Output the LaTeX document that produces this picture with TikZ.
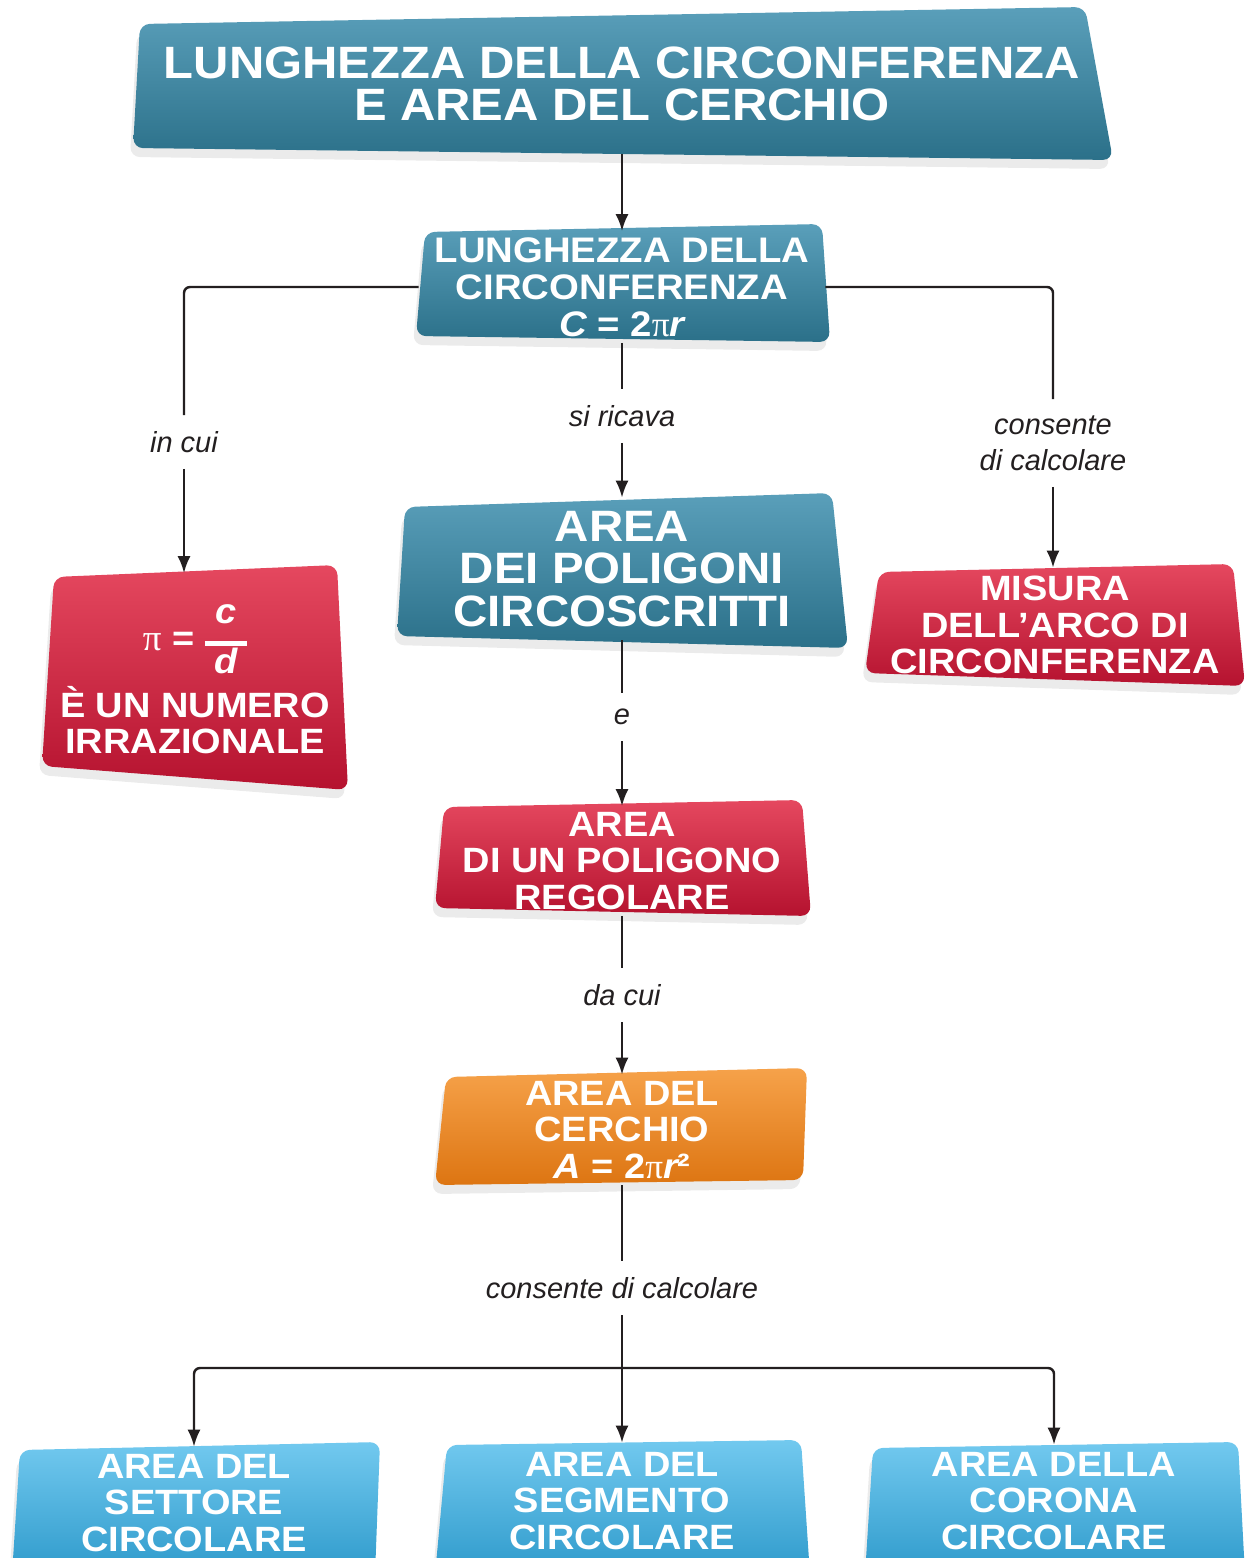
\documentclass[tikz,border=0pt]{standalone}
\usepackage{fontspec}
\setsansfont{Liberation Sans}
\newfontfamily\boxfont[FakeStretch=1.08]{Liberation Sans}
\newfontfamily\greekfont{Liberation Serif}
\usepackage{xcolor}
\usepackage{tikz}
\usetikzlibrary{positioning, calc, arrows.meta, shadows}

\definecolor{tealtop}{HTML}{5A9FBA}
\definecolor{tealbot}{HTML}{2B7089}
\definecolor{redtop}{HTML}{E5485F}
\definecolor{redbot}{HTML}{B5122F}
\definecolor{orangetop}{HTML}{F6A24A}
\definecolor{orangebot}{HTML}{DD7512}
\definecolor{skytop}{HTML}{72C9EF}
\definecolor{skybot}{HTML}{2E9ACB}
\definecolor{inkgrey}{HTML}{231F20}

\tikzset{
  concept/.style={inner sep=0pt, align=center, text=white,
    font=\boxfont\bfseries\fontsize{20}{20.6}\selectfont},
  bigconcept/.style={concept, font=\boxfont\bfseries\fontsize{25}{24.2}\selectfont},
  link/.style={inner ysep=0.32cm, inner xsep=0pt, align=center, text=inkgrey,
    font=\sffamily\itshape\fontsize{16.5}{20.5}\selectfont},
  flow/.style={draw=inkgrey, line width=1.4pt, -{Latex[length=0.34cm,width=0.26cm]}},
  wire/.style={draw=inkgrey, line width=1.4pt, rounded corners=0.12cm},
}

% shaded, slightly skewed box behind a concept
\newcommand{\panel}[5]{%
  \shade[rounded corners=0.2cm, top color=#5top, bottom color=#5bot,
    drop shadow={opacity=0.16, shadow xshift=-0.06cm, shadow yshift=-0.18cm}]
    ($(#1)!.5!(#2)$) -- (#2) -- (#3) -- (#4) -- (#1) -- cycle;}

\begin{document}
\begin{tikzpicture}[x=0.02cm, y=-0.02cm]
  \useasboundingbox (0,0) rectangle (1250,1558);

  % Backgrounds of the boxes
  \panel{140,24}{1085,7}{1113,160}{133,148}{teal}
  \panel{425,232}{822,224}{830,342}{416,336}{teal}
  \panel{405,507}{832,493}{848,648}{397,636}{teal}
  \panel{54,577}{337,565}{348,790}{42,766}{red}
  \panel{879,572}{1233,564}{1245,686}{865,673}{red}
  \panel{444,807}{802,800}{811,916}{435,908}{red}
  \panel{446,1077}{807,1068}{803,1180}{435,1185}{orange}
  \panel{20,1450}{380,1442}{375,1575}{12,1575}{sky}
  \panel{447,1445}{801,1440}{810,1575}{435,1575}{sky}
  \panel{873,1448}{1238,1442}{1245,1575}{865,1575}{sky}

  % Concepts
  \node[bigconcept, minimum width=19.3cm, minimum height=2.78cm,
    font=\boxfont\bfseries\fontsize{25.8}{24.2}\selectfont] (title) at (622,84)
    {LUNGHEZZA DELLA CIRCONFERENZA\\E AREA DEL CERCHIO};
  \node[concept, minimum width=8.12cm, minimum height=2.22cm,
    font=\boxfont\bfseries\fontsize{20.2}{21}\selectfont] (lung) at (622,287)
    {LUNGHEZZA DELLA\\CIRCONFERENZA\\{\itshape C} = 2{\greekfont\mdseries π}{\itshape r}};
  \node[bigconcept, minimum width=8.78cm, minimum height=2.84cm] (poli) at (622,569)
    {AREA\\DEI POLIGONI\\CIRCOSCRITTI};
  \node[concept, minimum width=6.0cm, minimum height=4.1cm] (pinum) at (195,676)
    {{\greekfont\mdseries\fontsize{21}{21}\selectfont π} =
     \begin{tabular}{@{}c@{}}{\itshape\fontsize{20}{20}\selectfont c}\\[-8pt]
     \rule{1.2em}{3pt}\\[-5pt]{\itshape\fontsize{20}{20}\selectfont d}\end{tabular}\\[0pt]
     È UN NUMERO\\IRRAZIONALE};
  \node[concept, minimum width=7.44cm, minimum height=2.28cm] (misura) at (1055,625)
    {MISURA\\DELL’ARCO DI\\CIRCONFERENZA};
  \node[concept, minimum width=7.36cm, minimum height=2.18cm] (polreg) at (622,861)
    {AREA\\DI UN POLIGONO\\REGOLARE};
  \node[concept, minimum width=7.4cm, minimum height=2.2cm] (cerchio) at (622,1130)
    {AREA DEL\\CERCHIO\\{\itshape A} = 2{\greekfont\mdseries π}{\itshape r}²};
  \node[concept, minimum width=7.24cm, minimum height=2.24cm] (settore) at (194,1503)
    {AREA DEL\\SETTORE\\CIRCOLARE};
  \node[concept, minimum width=7.36cm, minimum height=2.32cm] (segmento) at (622,1501)
    {AREA DEL\\SEGMENTO\\CIRCOLARE};
  \node[concept, minimum width=7.52cm, minimum height=2.24cm] (corona) at (1054,1501)
    {AREA DELLA\\CORONA\\CIRCOLARE};

  % Link words
  \node[link] (incui) at (184,442) {in cui};
  \node[link] (ricava) at (622,416) {si ricava};
  \node[link] (consente) at (1053,443) {consente\\di calcolare};
  \node[link] (enode) at (622,717) {e};
  \node[link] (dacui) at (622,995) {da cui};
  \node[link] (calcola) at (622,1288) {consente di calcolare};
  \coordinate (split) at (622,1368);

  % Connectors
  \draw[flow] (title) -- (lung);
  \draw[wire] (lung) -- (ricava);
  \draw[flow] (ricava) -- (poli);
  \draw[wire] (lung.west) -| (incui);
  \draw[flow] (incui) -- (incui |- pinum.north);
  \draw[wire] (lung.east) -| (consente);
  \draw[flow] (consente) -- (consente |- misura.north);
  \draw[wire] (poli) -- (enode);
  \draw[flow] (enode) -- (polreg);
  \draw[wire] (polreg) -- (dacui);
  \draw[flow] (dacui) -- (cerchio);
  \draw[wire] (cerchio) -- (calcola);
  \draw[flow] (calcola) -- (segmento);
  \draw[flow, rounded corners=0.12cm] (split) -| (settore);
  \draw[flow, rounded corners=0.12cm] (split) -| (corona);
\end{tikzpicture}
\end{document}
